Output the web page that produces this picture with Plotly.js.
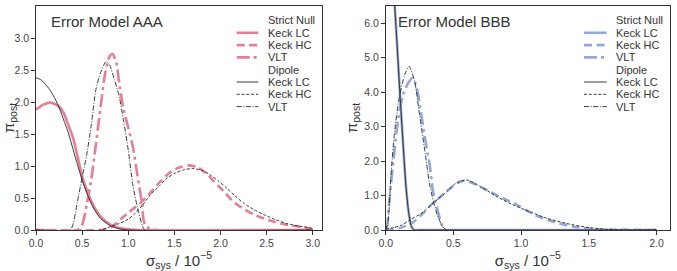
<!DOCTYPE html>
<html>
<head>
<meta charset="utf-8">
<script src="https://cdn.plot.ly/plotly-3.0.1.min.js"></script>
<style>
html,body{margin:0;padding:0;background:#fff;}
#chart{width:677px;height:271px;}
</style>
</head>
<body>
<div id="chart"></div>
<script>
// ---------------- Data: Error Model AAA (left panel) ----------------
const aaaNullLC_x = [0, 0.08, 0.16, 0.25, 0.3, 0.35, 0.4, 0.45, 0.5, 0.55, 0.6, 0.65, 0.7, 0.8, 0.9, 1.0, 1.1, 3.0];
const aaaNullLC_y = [1.88, 1.96, 1.99, 1.93, 1.83, 1.64, 1.45, 1.15, 0.84, 0.62, 0.45, 0.31, 0.21, 0.09, 0.03, 0.01, 0, 0];

const aaaNullHC_x = [0, 0.7, 0.78, 0.85, 0.91, 1.0, 1.13, 1.25, 1.35, 1.47, 1.56, 1.65, 1.75, 1.85, 1.93, 2.05, 2.14, 2.25, 2.36, 2.47, 2.58, 2.72, 2.87, 3.0];
const aaaNullHC_y = [0, 0, 0.02, 0.08, 0.16, 0.27, 0.42, 0.6, 0.76, 0.92, 0.98, 1.01, 0.98, 0.88, 0.76, 0.58, 0.44, 0.33, 0.24, 0.18, 0.13, 0.08, 0.05, 0.01];

const aaaNullVLT_x = [0, 0.45, 0.5, 0.55, 0.6, 0.65, 0.7, 0.75, 0.8, 0.83, 0.87, 0.9, 0.95, 1.0, 1.05, 1.1, 1.15, 1.2, 3.0];
const aaaNullVLT_y = [0, 0, 0.08, 0.4, 0.8, 1.35, 1.92, 2.45, 2.72, 2.75, 2.62, 2.32, 1.88, 1.6, 1.3, 0.85, 0.42, 0.05, 0];

const aaaDipLC_x = [0, 0.05, 0.1, 0.15, 0.2, 0.26, 0.3, 0.35, 0.4, 0.45, 0.5, 0.55, 0.6, 0.65, 0.7, 0.8, 0.9, 1.0, 3.0];
const aaaDipLC_y = [2.38, 2.35, 2.28, 2.19, 2.07, 1.88, 1.72, 1.52, 1.27, 1.02, 0.78, 0.58, 0.41, 0.28, 0.18, 0.07, 0.02, 0, 0];

const aaaDipHC_x = [0, 0.7, 0.8, 0.9, 1.0, 1.06, 1.15, 1.24, 1.33, 1.42, 1.51, 1.6, 1.7, 1.8, 1.89, 1.98, 2.07, 2.16, 2.25, 2.36, 2.47, 2.6, 2.72, 2.85, 2.98, 3.0];
const aaaDipHC_y = [0, 0, 0.05, 0.1, 0.17, 0.24, 0.38, 0.55, 0.68, 0.81, 0.89, 0.94, 0.96, 0.93, 0.86, 0.76, 0.65, 0.53, 0.42, 0.32, 0.24, 0.16, 0.1, 0.06, 0.03, 0.02];

const aaaDipVLT_x = [0, 0.37, 0.4, 0.45, 0.5, 0.55, 0.6, 0.65, 0.7, 0.76, 0.8, 0.85, 0.9, 0.95, 1.0, 1.05, 1.1, 1.15, 1.18, 3.0];
const aaaDipVLT_y = [0, 0, 0.08, 0.45, 0.82, 1.18, 1.65, 2.2, 2.46, 2.63, 2.57, 2.35, 2.1, 1.7, 1.25, 0.7, 0.35, 0.08, 0, 0];

// ---------------- Data: Error Model BBB (right panel) ----------------
const bbbNullLC_x = [0, 0.03, 0.05, 0.066, 0.08, 0.1, 0.115, 0.13, 0.15, 0.17, 0.19, 0.21, 0.25, 2.0];
const bbbNullLC_y = [14, 10.5, 7.7, 6.54, 5.65, 4.3, 3.34, 2.4, 1.25, 0.5, 0.1, 0, 0, 0];

const bbbNullHC_x = [0, 0.1, 0.2, 0.28, 0.327, 0.4, 0.48, 0.55, 0.585, 0.65, 0.745, 0.85, 0.97, 1.09, 1.24, 1.38, 1.5, 1.65, 2.0];
const bbbNullHC_y = [0, 0.05, 0.22, 0.5, 0.7, 0.95, 1.22, 1.4, 1.43, 1.35, 1.16, 0.95, 0.73, 0.46, 0.24, 0.1, 0.04, 0.01, 0];

const bbbNullVLT_x = [0, 0.01, 0.024, 0.054, 0.09, 0.128, 0.165, 0.2, 0.23, 0.263, 0.29, 0.325, 0.35, 0.386, 0.42, 0.44, 2.0];
const bbbNullVLT_y = [0, 0.1, 0.73, 1.89, 3.15, 3.92, 4.26, 4.42, 4.1, 3.34, 2.67, 1.89, 1.11, 0.53, 0.1, 0, 0];

const bbbDipLC_x = [0, 0.03, 0.05, 0.066, 0.08, 0.1, 0.115, 0.13, 0.15, 0.17, 0.19, 0.21, 0.25, 2.0];
const bbbDipLC_y = [14, 10.5, 7.7, 6.54, 5.65, 4.3, 3.34, 2.4, 1.25, 0.5, 0.1, 0, 0, 0];

const bbbDipHC_x = [0, 0.06, 0.118, 0.18, 0.28, 0.35, 0.45, 0.52, 0.6, 0.7, 0.82, 0.94, 1.065, 1.19, 1.336, 1.48, 1.6, 1.75, 2.0];
const bbbDipHC_y = [0.03, 0.07, 0.145, 0.29, 0.53, 0.78, 1.11, 1.36, 1.45, 1.26, 0.97, 0.73, 0.53, 0.34, 0.19, 0.08, 0.03, 0, 0];

const bbbDipVLT_x = [0, 0.017, 0.041, 0.066, 0.1, 0.14, 0.172, 0.214, 0.25, 0.29, 0.325, 0.373, 0.42, 0.45, 2.0];
const bbbDipVLT_y = [0, 0.24, 1.7, 2.86, 3.83, 4.5, 4.75, 4.31, 3.34, 2.28, 1.31, 0.53, 0.1, 0, 0];

// ---------------- Text ----------------
const panelTitles = ['Error Model AAA', 'Error Model BBB'];
const legendLabels = ['Strict Null', 'Keck LC', 'Keck HC', 'VLT', 'Dipole', 'Keck LC', 'Keck HC', 'VLT'];
const aaaXTicks = [0, 0.5, 1.0, 1.5, 2.0, 2.5, 3.0];
const aaaYTicks = [0, 0.5, 1.0, 1.5, 2.0, 2.5, 3.0];
const bbbXTicks = [0, 0.5, 1.0, 1.5, 2.0];
const bbbYTicks = [0, 1, 2, 3, 4, 5, 6];
const xTitle = 'σ<sub>sys</sub> / 10<sup>−5</sup>';
const yTitle = 'π<sub>post</sub>';

// ---------------- Styles ----------------
const PINK = '#e57f93';
const BLUE = '#93a8d6';
const DARK = '#262626';
const AX = '#333333';
const FONT = 'Liberation Sans, Arial, sans-serif';
const W = 677, H = 271;

function thick(color, dash) { return {color: color, width: 2.6, dash: dash}; }
function thin(dash) { return {color: DARK, width: 0.9, dash: dash}; }
const DASH_T = '8px,4.5px';
const DASHDOT_T = '13px,4px,3px,4px';
const DASH_N = '3px,1.8px';
const DASHDOT_N = '5px,1.6px,1px,1.6px';

function tr(x, y, line, xa, ya, name) {
  return {x: x, y: y, type: 'scatter', mode: 'lines', line: Object.assign({shape: 'spline', smoothing: 0.7}, line),
          xaxis: xa, yaxis: ya, name: name, showlegend: false, hoverinfo: 'skip'};
}

const traces = [
  tr(aaaNullLC_x, aaaNullLC_y, thick(PINK, 'solid'), 'x', 'y', 'Strict Null Keck LC'),
  tr(aaaNullHC_x, aaaNullHC_y, thick(PINK, DASH_T), 'x', 'y', 'Strict Null Keck HC'),
  tr(aaaNullVLT_x, aaaNullVLT_y, thick(PINK, DASHDOT_T), 'x', 'y', 'Strict Null VLT'),
  tr(aaaDipLC_x, aaaDipLC_y, thin('solid'), 'x', 'y', 'Dipole Keck LC'),
  tr(aaaDipHC_x, aaaDipHC_y, thin(DASH_N), 'x', 'y', 'Dipole Keck HC'),
  tr(aaaDipVLT_x, aaaDipVLT_y, thin(DASHDOT_N), 'x', 'y', 'Dipole VLT'),
  tr(bbbNullLC_x, bbbNullLC_y, thick(BLUE, 'solid'), 'x2', 'y2', 'Strict Null Keck LC'),
  tr(bbbNullHC_x, bbbNullHC_y, thick(BLUE, DASH_T), 'x2', 'y2', 'Strict Null Keck HC'),
  tr(bbbNullVLT_x, bbbNullVLT_y, thick(BLUE, DASHDOT_T), 'x2', 'y2', 'Strict Null VLT'),
  tr(bbbDipLC_x, bbbDipLC_y, thin('solid'), 'x2', 'y2', 'Dipole Keck LC'),
  tr(bbbDipHC_x, bbbDipHC_y, thin(DASH_N), 'x2', 'y2', 'Dipole Keck HC'),
  tr(bbbDipVLT_x, bbbDipVLT_y, thin(DASHDOT_N), 'x2', 'y2', 'Dipole VLT')
];

// plot-area pixel boxes
const boxA = {l: 36, r: 322, t: 6, b: 230};
const boxB = {l: 385.7, r: 670, t: 6, b: 230};

function xaxisDef(box, range, ticks) {
  return {domain: [box.l / W, box.r / W], range: range, tickvals: ticks, tickformat: '.1f',
    ticks: 'outside', ticklen: 3.5, tickwidth: 1, tickcolor: AX,
    showline: true, mirror: true, linecolor: AX, linewidth: 1.2, showgrid: false, zeroline: false,
    tickfont: {family: FONT, size: 10.5, color: '#444'},
    title: {text: xTitle, font: {family: FONT, size: 15, color: '#333'}, standoff: 4}};
}
function yaxisDef(box, range, ticks) {
  return {domain: [1 - box.b / H, 1 - box.t / H], range: range, tickvals: ticks, tickformat: '.1f',
    ticks: 'outside', ticklen: 3.5, tickwidth: 1, tickcolor: AX,
    showline: true, mirror: true, linecolor: AX, linewidth: 1.2, showgrid: false, zeroline: false,
    tickfont: {family: FONT, size: 10.5, color: '#444'},
    title: {text: yTitle, font: {family: FONT, size: 15, color: '#333'}, standoff: 3}};
}

// legend rows (manual legend, drawn from the label array)
const legendStylesA = [null, thick(PINK, 'solid'), thick(PINK, DASH_T), thick(PINK, DASHDOT_T), null, thin('solid'), thin(DASH_N), thin(DASHDOT_N)];
const legendStylesB = [null, thick(BLUE, 'solid'), thick(BLUE, DASH_T), thick(BLUE, DASHDOT_T), null, thin('solid'), thin(DASH_N), thin(DASHDOT_N)];
const shapes = [], annotations = [];
function addLegend(lineX0, lineX1, textX, styles) {
  legendLabels.forEach(function (lab, i) {
    const yy = 20.5 + 12.3 * i;
    if (styles[i]) {
      shapes.push({type: 'line', xref: 'paper', yref: 'paper', x0: lineX0 / W, x1: lineX1 / W,
        y0: 1 - yy / H, y1: 1 - yy / H, line: styles[i]});
    }
    annotations.push({xref: 'paper', yref: 'paper', x: textX / W, y: 1 - yy / H, xanchor: 'left', yanchor: 'middle',
      text: lab, showarrow: false, font: {family: FONT, size: 11, color: '#333'}, borderpad: 0});
  });
}
addLegend(236.7, 258.3, 267, legendStylesA);
addLegend(584, 606.7, 615, legendStylesB);

annotations.push({xref: 'paper', yref: 'paper', x: 50 / W, y: 1 - 21 / H, xanchor: 'left', yanchor: 'middle',
  text: panelTitles[0], showarrow: false, font: {family: FONT, size: 15, color: '#333'}, borderpad: 0});
annotations.push({xref: 'paper', yref: 'paper', x: 397 / W, y: 1 - 21 / H, xanchor: 'left', yanchor: 'middle',
  text: panelTitles[1], showarrow: false, font: {family: FONT, size: 15, color: '#333'}, borderpad: 0});

const layout = {
  width: W, height: H, margin: {l: 0, r: 0, t: 0, b: 0},
  paper_bgcolor: '#fff', plot_bgcolor: '#fff', showlegend: false,
  font: {family: FONT, color: '#333'},
  xaxis: Object.assign(xaxisDef(boxA, [0, 3.1], aaaXTicks), {anchor: 'y'}),
  yaxis: Object.assign(yaxisDef(boxA, [0, 3.5], aaaYTicks), {anchor: 'x'}),
  xaxis2: Object.assign(xaxisDef(boxB, [0, 2.1], bbbXTicks), {anchor: 'y2'}),
  yaxis2: Object.assign(yaxisDef(boxB, [0, 6.5], bbbYTicks), {anchor: 'x2'}),
  shapes: shapes, annotations: annotations
};

Plotly.newPlot('chart', traces, layout, {staticPlot: true, displayModeBar: false});
</script>
</body>
</html>
